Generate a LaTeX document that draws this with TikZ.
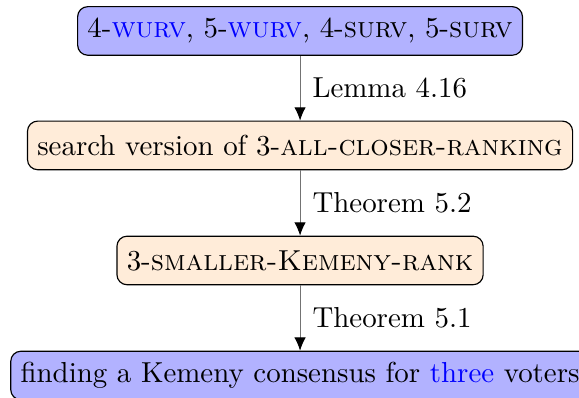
\documentclass[tikz,border=0pt]{standalone}
\usetikzlibrary{arrows.meta}
\begin{document}
\begin{tikzpicture}[x=1pt,y=1pt,
  box/.style={draw=black, rounded corners=3.5pt, inner xsep=3.4pt, minimum height=16.8pt, text=black},
  bluebox/.style={box, fill=blue!30},
  peachbox/.style={box, fill=orange!15},
  conn/.style={-{Latex[length=4.6pt,width=4pt,color=black]}, draw=black!55, line width=0.35pt},
  lbl/.style={right, midway, xshift=0.8pt, text=black}]
\useasboundingbox (0,0) rectangle (200.3,-137.4);
\clip (0,0) rectangle (200.3,-137.4);
\node[bluebox] (a) at (103.8,-10.7) {4-\textcolor{blue}{\textsc{wurv}}, 5-\textcolor{blue}{\textsc{wurv}}, 4-\textsc{surv}, 5-\textsc{surv}};
\node[peachbox] (b) at (103.8,-50.3) {search version of 3-\textsc{all-closer-ranking}};
\node[peachbox] (c) at (103.8,-90.1) {3-\textsc{smaller-Kemeny-rank}};
\node[bluebox] (d) at (103.8,-129.9) {finding a Kemeny consensus for \textcolor{blue}{three} voters};
\draw[conn] (a) -- node[lbl] {Lemma 4.16} (b);
\draw[conn] (b) -- node[lbl] {Theorem 5.2} (c);
\draw[conn] (c) -- node[lbl] {Theorem 5.1} (d);
\end{tikzpicture}
\end{document}
